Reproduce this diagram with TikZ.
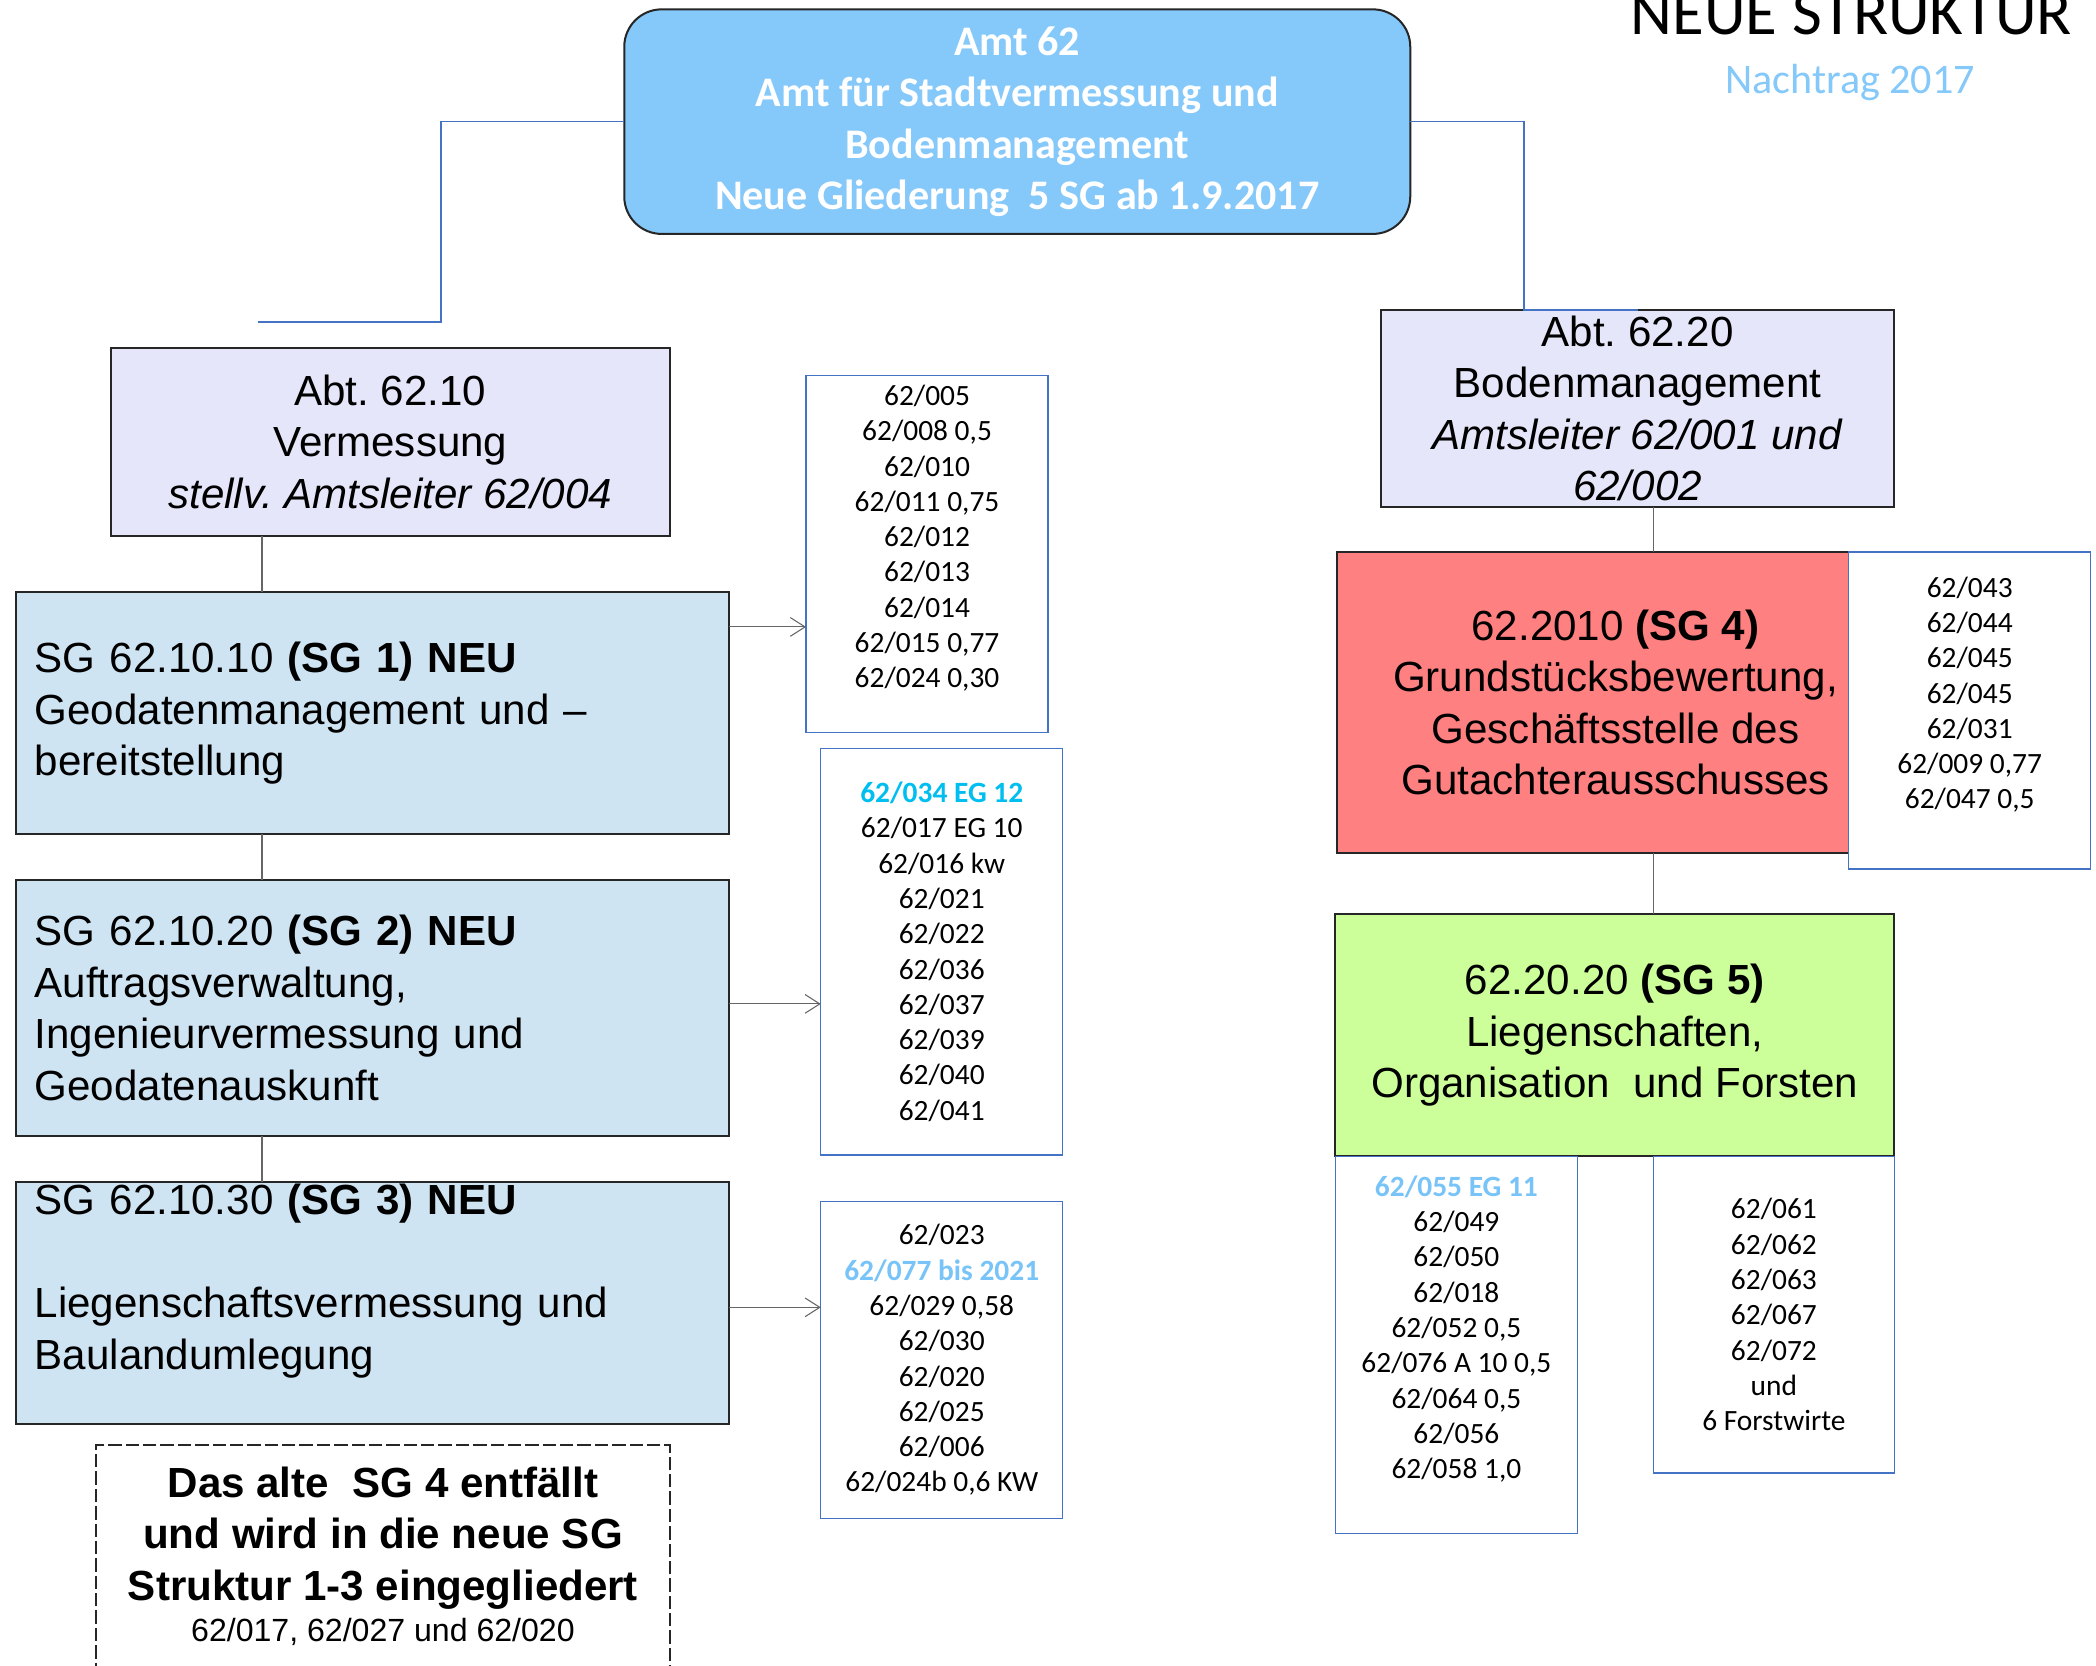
\documentclass[tikz,border=0pt]{standalone}
\usepackage{fontspec}
\setmainfont{Liberation Sans}
\newfontfamily\calibri{Carlito}
\usetikzlibrary{arrows.meta,positioning}
\definecolor{amtblue}{RGB}{133,200,250}
\definecolor{abtlila}{RGB}{230,230,250}
\definecolor{sgblue}{RGB}{207,228,242}
\definecolor{sgred}{RGB}{255,128,128}
\definecolor{sggreen}{RGB}{204,255,153}
\definecolor{linkblue}{RGB}{68,114,196}
\definecolor{cyanhl}{RGB}{0,190,240}
\definecolor{skyhl}{RGB}{120,196,248}
\newcommand{\orgfont}{\fontsize{31.5}{38.5}\selectfont}
\newcommand{\nrfont}{\fontsize{22}{26.4}\selectfont}
\frenchspacing

\begin{document}
\begin{tikzpicture}[x=1pt, y=-1pt, >={Straight Barb[length=11pt,width=14pt]}]
\tikzstyle{box} = [rectangle, draw=black!85, line width=1.5pt, inner sep=0pt, outer sep=0pt, font=\orgfont, align=center]
\tikzstyle{sgbox} = [box, fill=sgblue, align=left, inner xsep=14pt, text width=505pt, minimum width=533pt]
\tikzstyle{nrbox} = [rectangle, draw=linkblue, line width=1pt, fill=white, inner sep=0pt, outer sep=0pt, font=\calibri\nrfont, align=center]
\tikzstyle{frame} = [rectangle, draw=black!85, line width=1.5pt, dash pattern=on 10pt off 3pt, inner sep=0pt]
\tikzstyle{link} = [linkblue, line width=1pt]
\tikzstyle{stem} = [black!60, line width=1pt]
\tikzstyle{arr} = [->, black!60, line width=0.8pt]
\useasboundingbox (0,0) rectangle (1568,1246);
\clip (0,0) rectangle (1568,1246);
\fill[white] (0,0) rectangle (1568,1246);
% Kopf
\node[font=\calibri\fontsize{48.5}{58}\selectfont, anchor=base, inner sep=0pt] (titel) at (1385,26) {NEUE STRUKTUR};
\node[font=\calibri\orgfont, text=amtblue, anchor=base, inner sep=0pt] (nachtrag) at (1384,70) {Nachtrag 2017};
\node[box, fill=amtblue, rounded corners=28pt, minimum width=588pt, minimum height=168pt, text=white, font=\calibri\bfseries\orgfont] (amt) at (761,91) {Amt 62\\Amt für Stadtvermessung und\\Bodenmanagement\\Neue Gliederung\ \ 5 SG ab 1.9.2017};
% Abteilungen
\node[box, fill=abtlila, minimum width=418pt, minimum height=141pt] (abt10) at (292,330.5) {Abt. 62.10\\Vermessung\\\textit{stellv. Amtsleiter 62/004}};
\node[box, fill=abtlila, minimum width=384pt, minimum height=147pt] (abt20) at (1225,305.5) {Abt. 62.20\\Bodenmanagement\\\textit{Amtsleiter 62/001 und}\\\textit{62/002}};
% Sachgebiete 1-3
\node[sgbox, minimum height=181pt] (sg1) at (278.5,533.5) {SG 62.10.10 \textbf{(SG 1) NEU}\\Geodatenmanagement und –\\bereitstellung};
\node[sgbox, minimum height=192pt] (sg2) at (278.5,754) {SG 62.10.20 \textbf{(SG 2) NEU}\\Auftragsverwaltung,\\Ingenieurvermessung und\\Geodatenauskunft};
\node[sgbox, minimum height=181pt] (sg3) at (278.5,974.5) {SG 62.10.30 \textbf{(SG 3) NEU}\\\mbox{}\\Liegenschaftsvermessung und\\Baulandumlegung\\\mbox{}};
\node[nrbox, minimum width=181pt, minimum height=267pt] (lst1) at (693.5,414.5) {62/005\\62/008 0,5\\62/010\\62/011 0,75\\62/012\\62/013\\62/014\\62/015 0,77\\62/024 0,30\\\mbox{}};
\node[nrbox, minimum width=181pt, minimum height=304pt] (lst2) at (704.5,712) {\textcolor{cyanhl}{\bfseries 62/034 EG 12}\\62/017 EG 10\\62/016 kw\\62/021\\62/022\\62/036\\62/037\\62/039\\62/040\\62/041};
\node[nrbox, minimum width=181pt, minimum height=237pt] (lst3) at (704.5,1017.5) {62/023\\\textcolor{skyhl}{\bfseries 62/077 bis 2021}\\62/029 0,58\\62/030\\62/020\\62/025\\62/006\\62/024b 0,6 KW};
% Sachgebiete 4-5
\node[box, fill=sgred, minimum width=417pt, minimum height=225pt] (sg4) at (1208.5,525.5) {62.2010 \textbf{(SG 4)}\\Grundstücksbewertung,\\Geschäftsstelle des\\Gutachterausschusses};
\node[nrbox, minimum width=181pt, minimum height=237pt] (lst4) at (1473.5,531.5) {62/043\\62/044\\62/045\\62/045\\62/031\\62/009 0,77\\62/047 0,5\\\mbox{}};
\node[box, fill=sggreen, minimum width=418pt, minimum height=181pt] (sg5) at (1208,774.5) {62.20.20 \textbf{(SG 5)}\\Liegenschaften,\\Organisation\ \ und Forsten};
\node[nrbox, minimum width=181pt, minimum height=282pt] (lst5) at (1089.5,1006) {\textcolor{skyhl}{\bfseries 62/055 EG 11}\\62/049\\62/050\\62/018\\62/052 0,5\\62/076 A 10 0,5\\62/064 0,5\\62/056\\62/058 1,0\\\mbox{}};
\node[nrbox, minimum width=180pt, minimum height=237pt] (lst6) at (1327,983.5) {62/061\\62/062\\62/063\\62/067\\62/072\\und\\6 Forstwirte};
% Hinweis altes SG 4
\node[frame, minimum width=429pt, minimum height=240pt, anchor=north] (rahmen) at (286.5,1080) {};
\node[font=\bfseries\orgfont, align=center, inner sep=0pt, below=17pt of rahmen.north] (hinweis) {Das alte\ \ SG 4 entfällt\\und wird in die neue SG\\Struktur 1-3 eingegliedert\\[-7.5pt]{\mdseries\fontsize{24}{29}\selectfont 62/017, 62/027 und 62/020}};
% Verbindungen
\coordinate (ende) at (193,241);
\draw[link] (amt.west) -| (330,0 |- ende) -- (ende);
\draw[link] (amt.east) -| (1140,0 |- abt20.north) -- (abt20.north);
\draw[stem] (abt10.south -| 196,0) -- (sg1.north -| 196,0);
\draw[stem] (sg1.south -| 196,0) -- (sg2.north -| 196,0);
\draw[stem] (sg2.south -| 196,0) -- (sg3.north -| 196,0);
\draw[stem] (abt20.south -| 1237,0) -- (sg4.north -| 1237,0);
\draw[stem] (sg4.south -| 1237,0) -- (sg5.north -| 1237,0);
\draw[arr] (sg1.east |- 0,469) -- (lst1.west |- 0,469);
\draw[arr] (sg2.east |- 0,751) -- (lst2.west |- 0,751);
\draw[arr] (sg3.east |- 0,978) -- (lst3.west |- 0,978);
\end{tikzpicture}
\end{document}
